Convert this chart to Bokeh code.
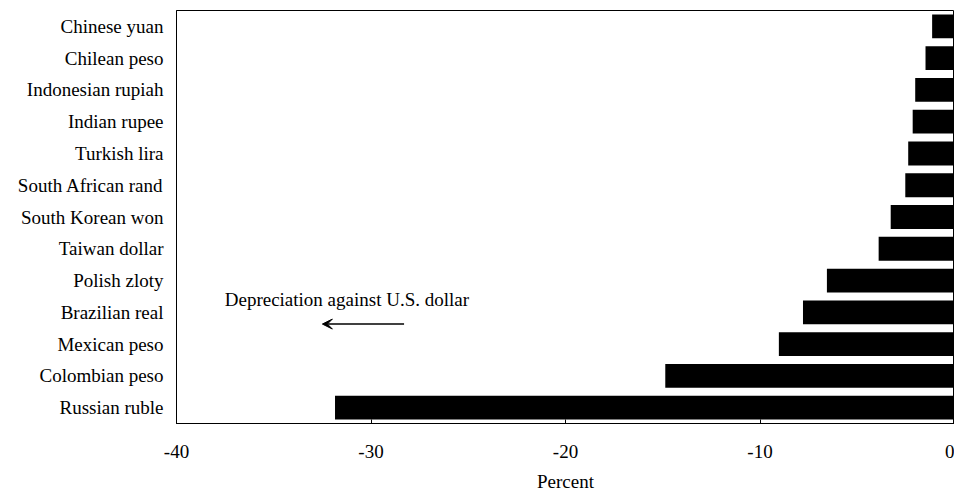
from bokeh.plotting import figure
from bokeh.models import (FactorRange, Range1d, FixedTicker, Label, Arrow, VeeHead,
                          ColumnDataSource, CustomJSTickFormatter)
from bokeh.embed import file_html
from bokeh.resources import INLINE

currencies = ["Chinese yuan", "Chilean peso", "Indonesian rupiah", "Indian rupee",
              "Turkish lira", "South African rand", "South Korean won", "Taiwan dollar",
              "Polish zloty", "Brazilian real", "Mexican peso", "Colombian peso", "Russian ruble"]
change_pct = [-1.15, -1.49, -2.02, -2.15, -2.38, -2.53, -3.28, -3.90,
              -6.56, -7.79, -9.03, -14.87, -31.85]
x_ticks = [-40, -30, -20, -10, 0]

FONT = "Liberation Serif"
FS = "19px"

src = ColumnDataSource(dict(cur=currencies, val=change_pct, zero=[0] * len(change_pct)))

p = figure(width=954, height=494, output_backend="svg", toolbar_location=None,
           y_range=FactorRange(factors=list(reversed(currencies)), range_padding=0),
           x_range=Range1d(-40, 0),
           min_border_left=176, min_border_right=0, min_border_top=10, min_border_bottom=70)

p.hbar(y="cur", left="val", right="zero", height=0.75, source=src,
       fill_color="black", line_color=None)

p.xgrid.visible = False
p.ygrid.visible = False
p.outline_line_color = "black"
p.outline_line_width = 1

xa = p.xaxis[0]
xa.ticker = FixedTicker(ticks=x_ticks)
xa.formatter = CustomJSTickFormatter(code="return tick.toFixed(0);")
xa.minor_tick_line_color = None
xa.major_tick_in = 4
xa.major_tick_out = 0
xa.major_tick_line_color = "black"
xa.axis_line_color = "black"
xa.major_label_text_font = FONT
xa.major_label_text_font_size = FS
xa.major_label_text_color = "black"
xa.major_label_standoff = 21
xa.axis_label = "Percent"
xa.axis_label_text_font = FONT
xa.axis_label_text_font_size = FS
xa.axis_label_text_font_style = "normal"
xa.axis_label_text_color = "black"
xa.axis_label_standoff = 10

ya = p.yaxis[0]
ya.major_tick_line_color = None
ya.minor_tick_line_color = None
ya.axis_line_color = "black"
ya.major_label_text_font = FONT
ya.major_label_text_font_size = FS
ya.major_label_text_color = "black"
ya.major_label_standoff = 7

p.add_layout(Label(x=-37.52, y=3.89, text="Depreciation against U.S. dollar",
                   text_font=FONT, text_font_size=FS, text_color="black",
                   text_baseline="middle", text_align="left"))
p.add_layout(Arrow(x_start=-28.3, y_start=3.13, x_end=-32.5, y_end=3.13,
                   line_color="black", line_width=1.5,
                   end=VeeHead(size=10, fill_color="black", line_color="black", line_width=1)))

open("out.html", "w").write(file_html(p, INLINE))
